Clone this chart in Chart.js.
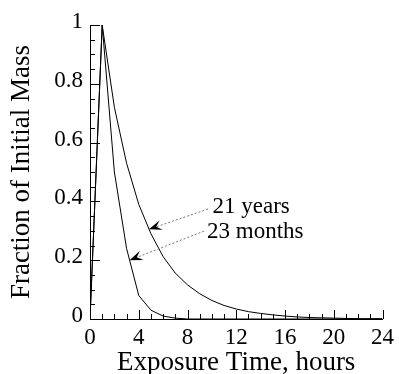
<!DOCTYPE html>
<html>
<head>
<meta charset="utf-8">
<script src="https://cdn.jsdelivr.net/npm/chart.js@4"></script>
<style>
  body { margin: 0; background: #fff; }
  canvas { display: block; }
</style>
</head>
<body>
<canvas id="c" width="399" height="374"></canvas>
<script>
// one value per hour
const hours = [0, 1, 2, 3, 4, 5, 6, 7, 8, 9, 10, 11, 12, 13, 14, 15, 16, 17, 18, 19, 20, 21, 22, 23, 24];
const years21 = [0, 1, 0.72, 0.53, 0.39, 0.29, 0.212, 0.156, 0.116, 0.086, 0.063, 0.046, 0.034, 0.025, 0.019, 0.014, 0.010, 0.007, 0.005, 0.004, 0.003, 0.002, 0.001, 0.001, 0.001];
const months23 = [0, 1, 0.5, 0.24, 0.08, 0.03, 0.01, 0.003, 0, 0, 0, 0, 0, 0, 0, 0, 0, 0, 0, 0, 0, 0, 0, 0, 0];
const xTickLabels = [0, 4, 8, 12, 16, 20, 24];
const yTickLabels = [0, 0.2, 0.4, 0.6, 0.8, 1];

const serif = 'Liberation Serif';

function pts(ys) {
  return hours.map((h, i) => ({ x: h, y: ys[i] }));
}

// arrows + labels, in data units
const notes = [
  { text: '21 years', at: [10.05, 0.36], tail: [9.68, 0.374], tip: [4.83, 0.305] },
  { text: '23 months', at: [9.6, 0.276], tail: [9.36, 0.299], tip: [3.25, 0.2] }
];

const inwardTicks = {
  id: 'inwardTicks',
  afterDraw(chart) {
    const { ctx, scales: { x, y }, chartArea: a } = chart;
    ctx.save();
    ctx.strokeStyle = '#000';
    ctx.lineWidth = 1;
    ctx.beginPath();
    for (let h = 0; h <= 24; h++) {
      const px = Math.round(x.getPixelForValue(h)) + 0.5;
      const len = h % 4 === 0 ? 9 : 5;
      ctx.moveTo(px, a.bottom);
      ctx.lineTo(px, a.bottom - len);
    }
    for (let k = 0; k <= 20; k++) {
      const py = Math.round(y.getPixelForValue(k * 0.05)) + 0.5;
      const len = k % 4 === 0 ? 10 : 5;
      ctx.moveTo(a.left, py);
      ctx.lineTo(a.left + len, py);
    }
    ctx.stroke();
    ctx.restore();
  }
};

const arrowNotes = {
  id: 'arrowNotes',
  afterDatasetsDraw(chart) {
    const { ctx, scales: { x, y } } = chart;
    ctx.save();
    notes.forEach(n => {
      const sx = x.getPixelForValue(n.tail[0]), sy = y.getPixelForValue(n.tail[1]);
      const tx = x.getPixelForValue(n.tip[0]), ty = y.getPixelForValue(n.tip[1]);
      const ang = Math.atan2(ty - sy, tx - sx);
      const len = 13, w = 5;
      ctx.strokeStyle = '#777';
      ctx.setLineDash([2, 2]);
      ctx.lineWidth = 1;
      ctx.beginPath();
      ctx.moveTo(sx, sy);
      ctx.lineTo(tx - Math.cos(ang) * len * 0.6, ty - Math.sin(ang) * len * 0.6);
      ctx.stroke();
      ctx.setLineDash([]);
      ctx.translate(tx, ty);
      ctx.rotate(ang);
      ctx.fillStyle = '#000';
      ctx.beginPath();
      ctx.moveTo(0, 0);
      ctx.lineTo(-len, w);
      ctx.lineTo(-len * 0.6, 0);
      ctx.lineTo(-len, -w);
      ctx.closePath();
      ctx.fill();
      ctx.setTransform(1, 0, 0, 1, 0, 0);
      ctx.font = '23px "' + serif + '"';
      ctx.textBaseline = 'alphabetic';
      ctx.textAlign = 'left';
      ctx.fillText(n.text, x.getPixelForValue(n.at[0]), y.getPixelForValue(n.at[1]));
    });
    ctx.restore();
  }
};

new Chart(document.getElementById('c'), {
  type: 'line',
  data: {
    datasets: [
      { label: '21 years', data: pts(years21), borderColor: '#000', borderWidth: 1, pointRadius: 0, tension: 0 },
      { label: '23 months', data: pts(months23), borderColor: '#000', borderWidth: 1, pointRadius: 0, tension: 0 }
    ]
  },
  options: {
    responsive: false,
    animation: false,
    layout: { padding: { left: 0, right: 14, top: 25, bottom: 0 } },
    plugins: { legend: { display: false }, tooltip: { enabled: false } },
    scales: {
      x: {
        type: 'linear', min: 0, max: 24,
        afterFit: s => { s.height = 55; },
        grid: { display: false, drawTicks: false },
        border: { display: true, color: '#000', width: 1 },
        ticks: {
          stepSize: 4, padding: 5, color: '#000', maxRotation: 0,
          font: { family: serif, size: 23 },
          callback: v => xTickLabels.includes(v) ? String(v) : ''
        },
        title: { display: true, text: 'Exposure Time, hours', color: '#000', padding: { top: 0, bottom: -2 },
                 font: { family: serif, size: 27, lineHeight: 1 } }
      },
      y: {
        min: 0, max: 1,
        afterFit: s => { s.width = 90; },
        grid: { display: false, drawTicks: false },
        border: { display: true, color: '#000', width: 1 },
        ticks: {
          stepSize: 0.2, padding: 7, labelOffset: -3, color: '#000',
          font: { family: serif, size: 23 },
          callback: v => {
            const r = +v.toFixed(2);
            return yTickLabels.includes(r) ? String(r) : '';
          }
        },
        title: { display: true, text: 'Fraction of Initial Mass', color: '#000', padding: { top: 8, bottom: 0 },
                 font: { family: serif, size: 27, lineHeight: 1 } }
      }
    }
  },
  plugins: [inwardTicks, arrowNotes]
});
</script>
</body>
</html>
